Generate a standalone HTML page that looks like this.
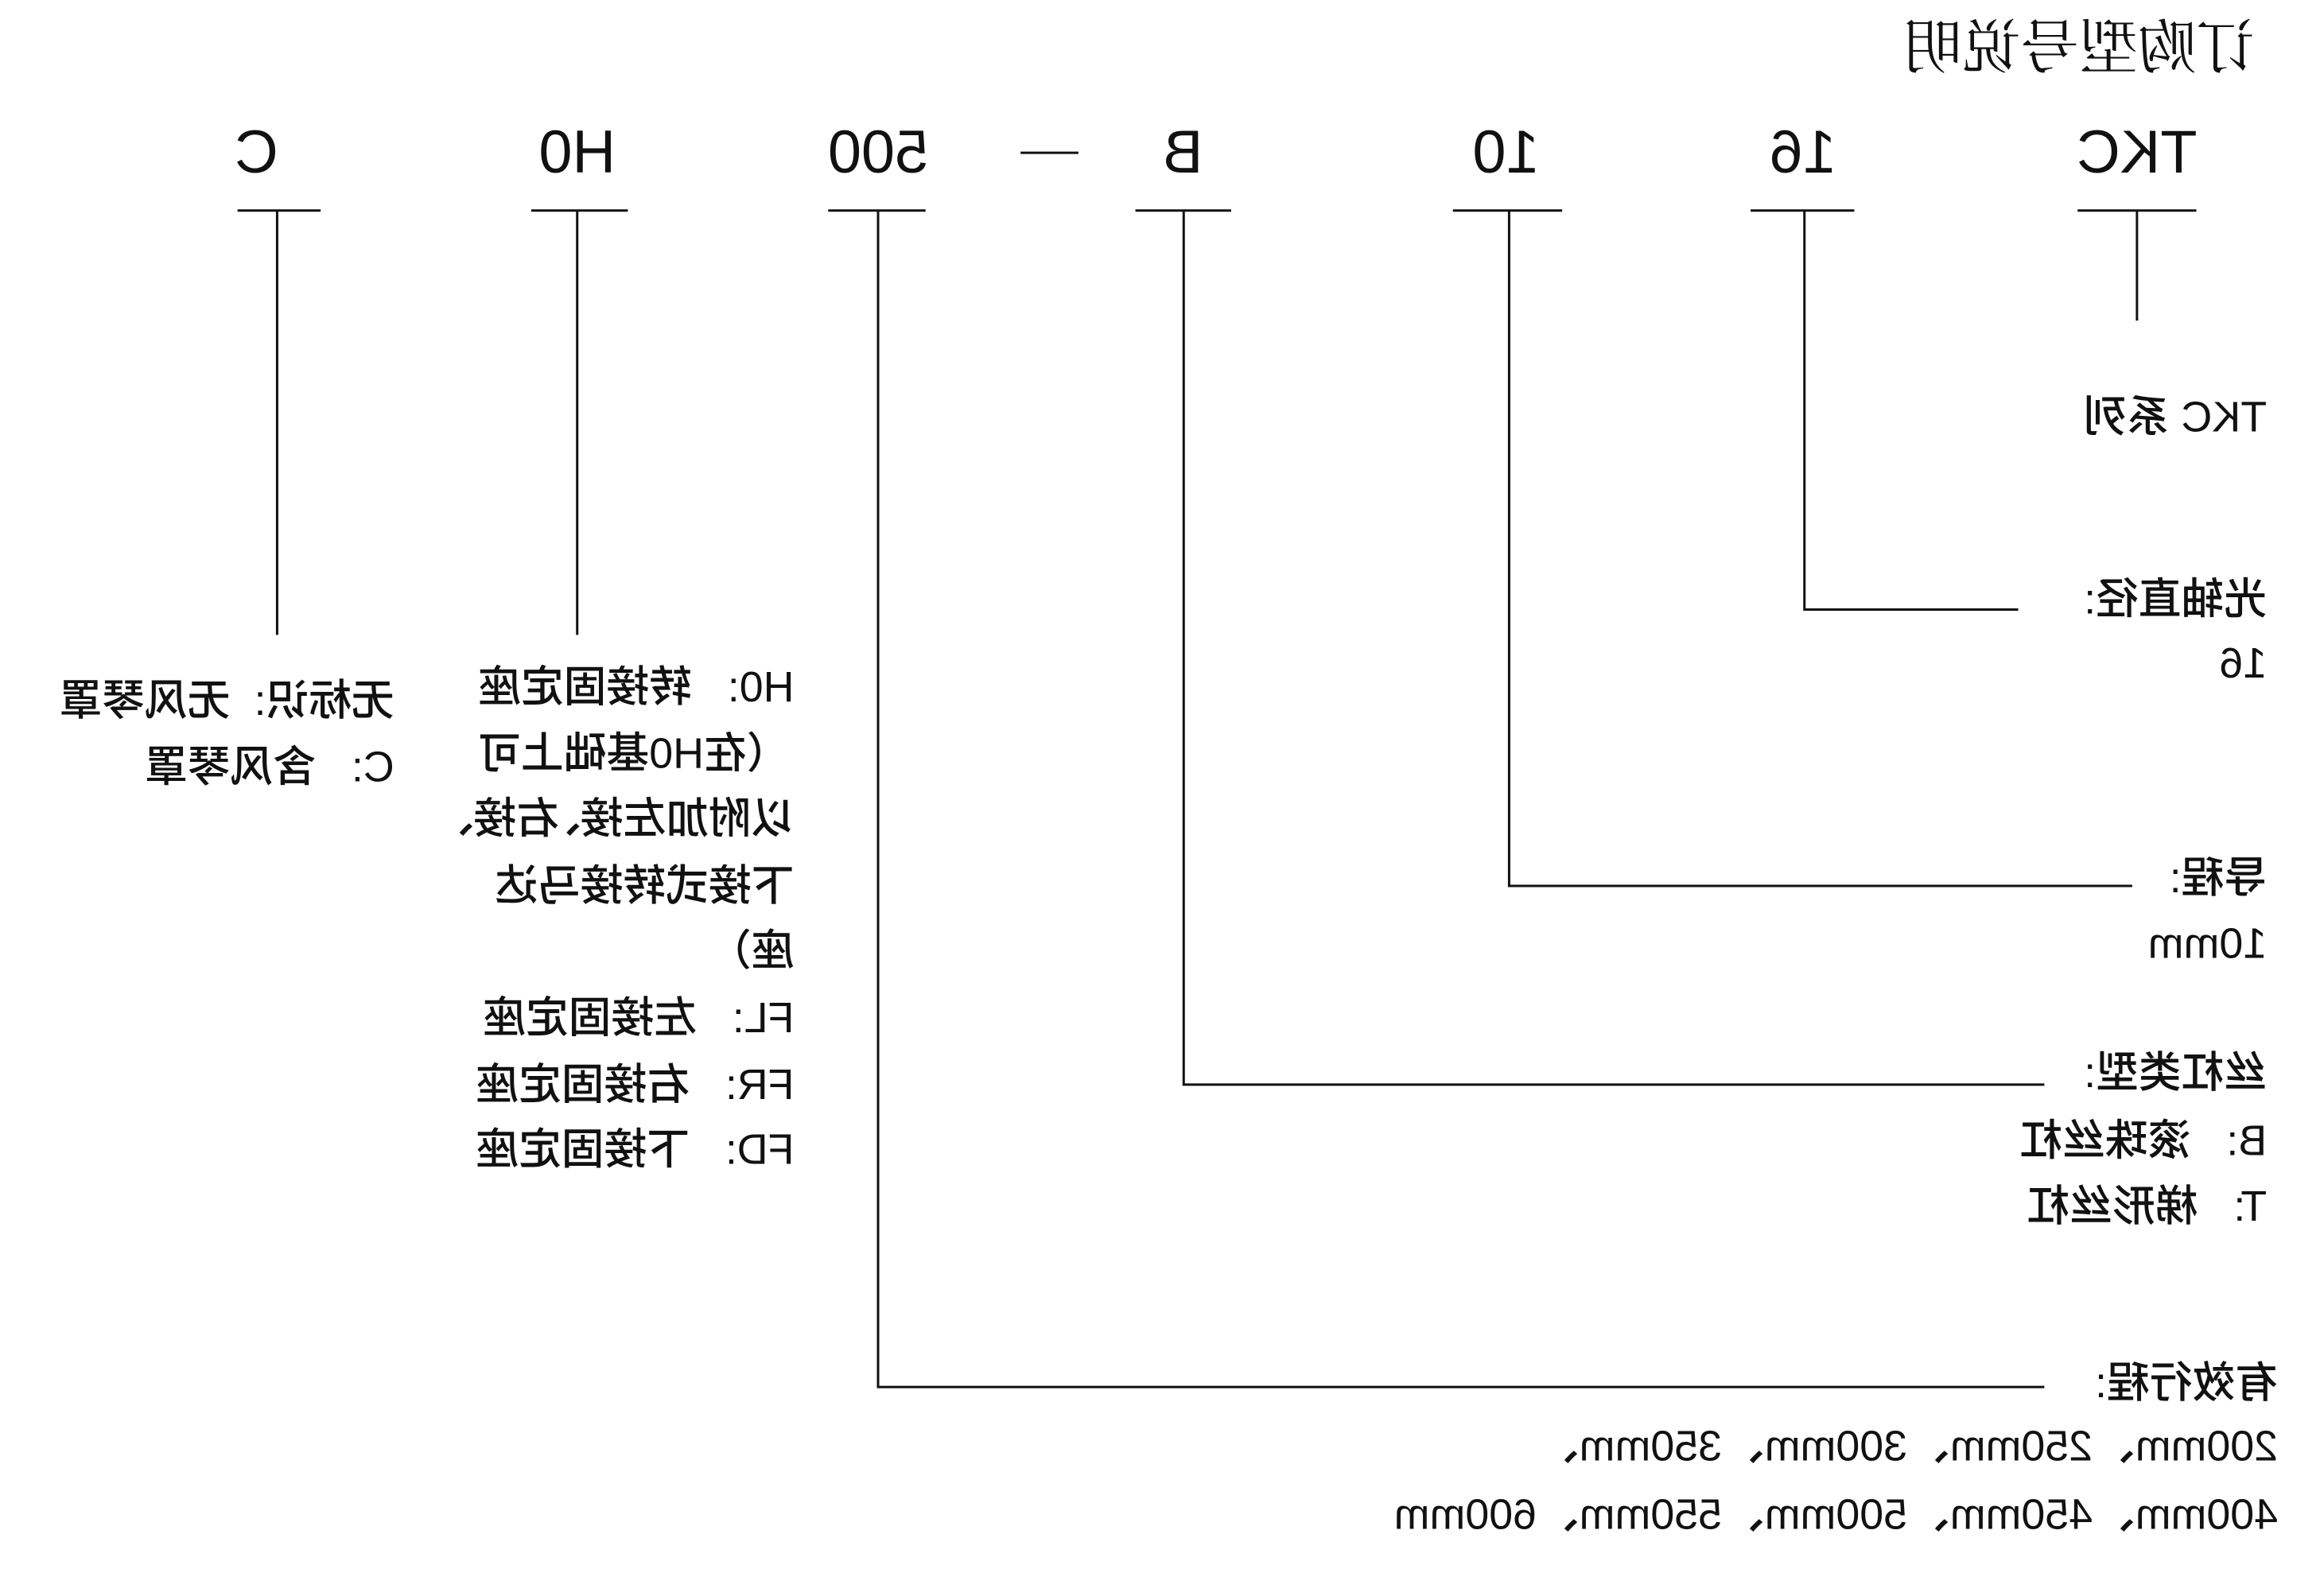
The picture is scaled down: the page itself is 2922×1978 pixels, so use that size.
<!DOCTYPE html>
<html><head><meta charset="utf-8"><style>
html,body{margin:0;padding:0;background:#fff;}
body{width:2922px;height:1978px;position:relative;overflow:hidden;}
#w{position:absolute;left:0;top:0;width:2922px;height:1978px;transform:scale(0.9955);transform-origin:0 0;}
#f{position:absolute;left:0;top:0;width:2922px;height:1978px;transform:scaleX(-1);transform-origin:1461px 0;}
.t{position:absolute;white-space:nowrap;font-family:"Liberation Sans","Noto Sans CJK SC",sans-serif;font-size:54px;line-height:54px;color:#111;font-weight:500;}
.c{position:absolute;width:300px;text-align:center;font-family:"Liberation Sans",sans-serif;font-size:76px;line-height:82px;color:#111;}
svg{position:absolute;left:0;top:0;}
</style></head><body>
<div id="w">
<div id="f">
<div class="t" style="left:74px;top:24px;font-size:74px;line-height:76px;font-weight:normal;font-family:'Liberation Serif','Noto Serif CJK SC',serif;">订购型号说明</div>
<div class="c" style="left:73px;top:152px">TKC</div>
<div class="c" style="left:495px;top:152px">16</div>
<div class="c" style="left:870px;top:152px">10</div>
<div class="c" style="left:1278px;top:152px">B</div>
<div class="c" style="left:1663px;top:152px">500</div>
<div class="c" style="left:2043px;top:152px">H0</div>
<div class="c" style="left:2448px;top:152px">C</div>

<div class="t" style="left:59px;top:500px">TKC 系列</div>
<div class="t" style="left:59px;top:730px">光轴直径:</div>
<div class="t" style="left:59px;top:811px">16</div>
<div class="t" style="left:59px;top:1082px">导程:</div>
<div class="t" style="left:59px;top:1165px">10mm</div>
<div class="t" style="left:59px;top:1328px">丝杠类型:</div>
<div class="t" style="left:59px;top:1414px">B:&nbsp;&nbsp; 滚珠丝杠</div>
<div class="t" style="left:59px;top:1497px">T:&nbsp;&nbsp; 梯形丝杠</div>
<div class="t" style="left:45px;top:1720px">有效行程:</div>
<div class="t" style="left:45px;top:1800px">200mm、250mm、300mm、350mm、</div>
<div class="t" style="left:45px;top:1886px">400mm、450mm、500mm、550mm、600mm</div>

<div class="t" style="left:1919px;top:841px">H0:&nbsp;&nbsp; 转接固定座</div>
<div class="t" style="left:1925px;top:925px">（在H0基础上可</div>
<div class="t" style="left:1919px;top:1007px">以附加左接､右接､</div>
<div class="t" style="left:1919px;top:1092px">下接式转接马达</div>
<div class="t" style="left:1919px;top:1174px">座）</div>
<div class="t" style="left:1919px;top:1259px">FL:&nbsp;&nbsp; 左接固定座</div>
<div class="t" style="left:1919px;top:1343px">FR:&nbsp;&nbsp; 右接固定座</div>
<div class="t" style="left:1919px;top:1425px">FD:&nbsp;&nbsp; 下接固定座</div>

<div class="t" style="left:2424px;top:858px">无标识:&nbsp; 无风琴罩</div>
<div class="t" style="left:2424px;top:942px">C:&nbsp;&nbsp; 含风琴罩</div>
</div>
<svg width="2922" height="1978" stroke="#111" stroke-width="3" fill="none">
<line x1="2624" y1="266" x2="2774" y2="266"/>
<line x1="2211" y1="266" x2="2342" y2="266"/>
<line x1="1835" y1="266" x2="1973" y2="266"/>
<line x1="1434" y1="266" x2="1555" y2="266"/>
<line x1="1046" y1="266" x2="1169" y2="266"/>
<line x1="671" y1="266" x2="793" y2="266"/>
<line x1="300" y1="266" x2="405" y2="266"/>
<line x1="1289" y1="193" x2="1362" y2="193"/>
<line x1="2699" y1="266" x2="2699" y2="405"/>
<polyline points="2279,266 2279,770 2549,770"/>
<polyline points="1906,266 1906,1119 2693,1119"/>
<polyline points="1495,266 1495,1370 2582,1370"/>
<polyline points="1109,266 1109,1752 2582,1752"/>
<line x1="729" y1="266" x2="729" y2="802"/>
<line x1="350" y1="266" x2="350" y2="802"/>
</svg>
</div>
</body></html>
